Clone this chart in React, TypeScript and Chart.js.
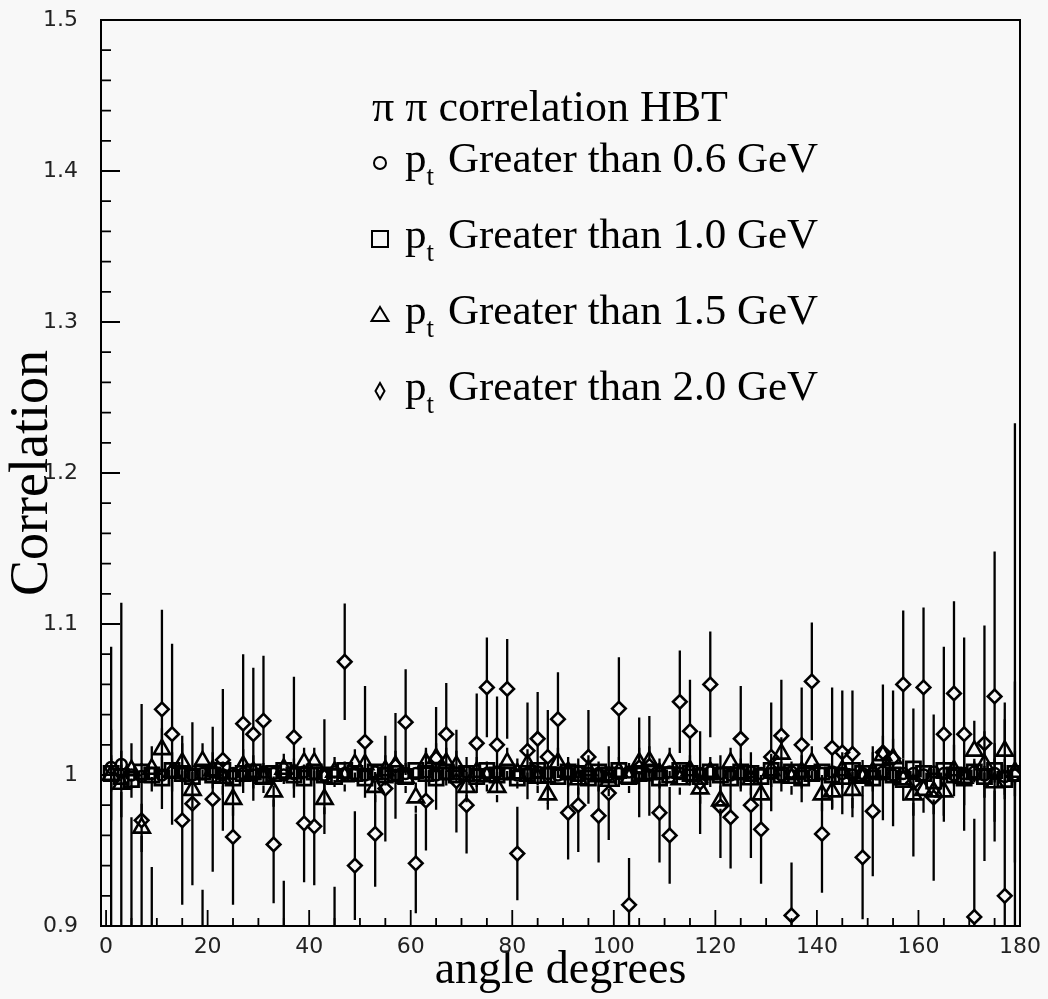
import React, { useEffect, useRef } from 'react';
import { Chart, registerables } from 'chart.js';

Chart.register(...registerables);

// ---------- data ----------
const angleBins = [
  1, 3, 5, 7, 9, 11, 13, 15, 17, 19,
  21, 23, 25, 27, 29, 31, 33, 35, 37, 39,
  41, 43, 45, 47, 49, 51, 53, 55, 57, 59,
  61, 63, 65, 67, 69, 71, 73, 75, 77, 79,
  81, 83, 85, 87, 89, 91, 93, 95, 97, 99,
  101, 103, 105, 107, 109, 111, 113, 115, 117, 119,
  121, 123, 125, 127, 129, 131, 133, 135, 137, 139,
  141, 143, 145, 147, 149, 151, 153, 155, 157, 159,
  161, 163, 165, 167, 169, 171, 173, 175, 177, 179,
];

// pt > 0.6 GeV (circles)
const corr06 = [
  1.005, 1.007, 1.000, 0.999, 1.001, 1.000, 1.002, 1.001, 1.000, 1.001,
  1.002, 1.000, 1.001, 1.001, 1.000, 1.002, 1.001, 1.000, 1.001, 1.002,
  1.001, 1.000, 1.002, 1.001, 1.001, 1.000, 1.002, 1.001, 1.000, 1.001,
  1.001, 1.002, 1.000, 1.001, 1.001, 1.002, 1.000, 1.001, 1.002, 1.001,
  1.000, 1.001, 1.002, 1.001, 1.000, 1.001, 1.002, 1.001, 1.001, 1.000,
  1.001, 1.002, 1.001, 1.000, 1.001, 1.002, 1.001, 1.000, 1.001, 1.002,
  1.001, 1.000, 1.001, 1.002, 1.001, 1.001, 1.000, 1.002, 1.001, 1.000,
  1.001, 1.002, 1.001, 1.000, 1.001, 1.001, 1.002, 1.000, 1.001, 1.001,
  1.000, 1.002, 1.001, 1.000, 1.001, 1.002, 1.000, 1.001, 0.999, 1.000,
];
const err06 = [
  0.006, 0.004, 0.003, 0.003, 0.003, 0.003, 0.003, 0.003, 0.003, 0.003,
  0.003, 0.003, 0.003, 0.003, 0.003, 0.003, 0.002, 0.002, 0.002, 0.002,
  0.002, 0.002, 0.002, 0.002, 0.002, 0.002, 0.002, 0.002, 0.002, 0.002,
  0.002, 0.002, 0.002, 0.002, 0.002, 0.002, 0.002, 0.002, 0.002, 0.002,
  0.002, 0.002, 0.002, 0.002, 0.002, 0.002, 0.002, 0.002, 0.002, 0.002,
  0.002, 0.002, 0.002, 0.002, 0.002, 0.002, 0.002, 0.002, 0.002, 0.002,
  0.002, 0.002, 0.002, 0.002, 0.002, 0.002, 0.002, 0.002, 0.002, 0.002,
  0.002, 0.002, 0.002, 0.003, 0.003, 0.003, 0.003, 0.003, 0.003, 0.003,
  0.003, 0.003, 0.003, 0.003, 0.003, 0.004, 0.004, 0.004, 0.005, 0.007,
];

// pt > 1.0 GeV (squares)
const corr10 = [
  1.001, 0.999, 0.997, 1.002, 1.000, 0.998, 1.003, 1.001, 0.999, 1.002,
  1.000, 1.003, 0.998, 1.001, 1.002, 0.999, 1.001, 1.003, 1.000, 0.998,
  1.002, 1.000, 0.999, 1.003, 1.001, 0.998, 1.002, 1.000, 1.001, 0.999,
  1.003, 1.001, 0.998, 1.002, 1.000, 1.001, 0.999, 1.003, 1.000, 1.002,
  0.998, 1.001, 1.003, 1.000, 0.999, 1.002, 1.001, 0.998, 1.002, 1.000,
  1.003, 0.999, 1.001, 1.002, 0.998, 1.000, 1.003, 1.001, 0.999, 1.002,
  1.000, 0.998, 1.002, 1.001, 0.999, 1.003, 1.000, 1.002, 0.998, 1.001,
  1.002, 1.000, 0.999, 1.003, 1.001, 0.998, 1.002, 1.000, 0.997, 1.004,
  1.001, 0.996, 1.003, 1.000, 0.998, 1.002, 0.999, 1.003, 0.997, 1.001,
];
const err10 = [
  0.012, 0.008, 0.006, 0.006, 0.005, 0.005, 0.005, 0.005, 0.005, 0.005,
  0.005, 0.004, 0.004, 0.004, 0.004, 0.004, 0.004, 0.004, 0.004, 0.004,
  0.004, 0.004, 0.004, 0.004, 0.004, 0.004, 0.004, 0.004, 0.004, 0.004,
  0.004, 0.004, 0.004, 0.004, 0.004, 0.004, 0.004, 0.004, 0.004, 0.004,
  0.004, 0.004, 0.004, 0.004, 0.004, 0.004, 0.004, 0.004, 0.004, 0.004,
  0.004, 0.004, 0.004, 0.004, 0.004, 0.004, 0.004, 0.004, 0.004, 0.004,
  0.004, 0.004, 0.004, 0.004, 0.004, 0.004, 0.004, 0.004, 0.004, 0.004,
  0.004, 0.004, 0.004, 0.004, 0.005, 0.005, 0.005, 0.005, 0.005, 0.005,
  0.005, 0.005, 0.006, 0.006, 0.006, 0.007, 0.007, 0.008, 0.010, 0.015,
];

// pt > 1.5 GeV (triangles)
const corr15 = [
  1.000, 0.994, 1.003, 0.965, 1.004, 1.017, 1.002, 1.008, 0.990, 1.009,
  1.003, 0.998, 0.984, 1.006, 1.002, 0.998, 0.989, 1.004, 1.001, 1.008,
  1.008, 0.984, 1.002, 0.999, 1.007, 1.007, 0.992, 1.003, 1.006, 0.998,
  0.985, 1.008, 1.011, 1.008, 1.006, 0.992, 1.002, 0.999, 0.992, 1.008,
  1.001, 1.007, 0.998, 0.987, 1.008, 1.002, 0.997, 1.003, 0.999, 0.996,
  1.002, 0.998, 1.008, 1.009, 1.001, 1.008, 0.997, 1.003, 0.991, 1.002,
  0.983, 1.008, 1.001, 0.997, 0.987, 1.003, 1.014, 0.998, 1.002, 1.008,
  0.987, 0.989, 1.003, 0.990, 0.998, 1.002, 1.013, 1.011, 0.997, 0.987,
  0.990, 0.989, 0.989, 1.003, 0.998, 1.016, 1.007, 0.995, 1.016, 1.002,
];
const err15 = [
  0.030, 0.022, 0.018, 0.016, 0.015, 0.014, 0.013, 0.013, 0.012, 0.012,
  0.012, 0.011, 0.011, 0.011, 0.011, 0.010, 0.010, 0.010, 0.010, 0.010,
  0.010, 0.010, 0.010, 0.010, 0.010, 0.010, 0.010, 0.010, 0.010, 0.010,
  0.010, 0.010, 0.010, 0.010, 0.010, 0.010, 0.010, 0.010, 0.010, 0.010,
  0.010, 0.010, 0.010, 0.010, 0.010, 0.010, 0.010, 0.010, 0.010, 0.010,
  0.010, 0.010, 0.010, 0.010, 0.010, 0.010, 0.010, 0.010, 0.010, 0.010,
  0.010, 0.010, 0.010, 0.010, 0.010, 0.011, 0.011, 0.011, 0.011, 0.011,
  0.011, 0.012, 0.012, 0.012, 0.012, 0.013, 0.013, 0.013, 0.014, 0.014,
  0.015, 0.015, 0.016, 0.017, 0.018, 0.020, 0.022, 0.026, 0.032, 0.060,
];

// pt > 2.0 GeV (diamonds)
const corr20 = [
  0.880, 0.875, 0.880, 0.970, 0.860, 1.0435, 1.027, 0.970, 0.981, 0.880,
  0.984, 1.010, 0.959, 1.034, 1.027, 1.036, 0.954, 0.892, 1.025, 0.968,
  0.966, 0.999, 0.888, 1.075, 0.940, 1.022, 0.961, 0.991, 1.006, 1.035,
  0.9415, 0.983, 1.011, 1.027, 0.996, 0.980, 1.021, 1.058, 1.020, 1.057,
  0.948, 1.016, 1.024, 1.012, 1.037, 0.975, 0.980, 1.012, 0.973, 0.988,
  1.044, 0.914, 1.005, 1.006, 0.975, 0.960, 1.0485, 1.029, 0.995, 1.060,
  0.979, 0.972, 1.024, 0.980, 0.964, 1.012, 1.026, 0.907, 1.020, 1.062,
  0.961, 1.018, 1.015, 1.014, 0.9455, 0.976, 1.015, 1.011, 1.060, 0.995,
  1.058, 0.985, 1.027, 1.054, 1.027, 0.906, 1.021, 1.052, 0.920, 1.000,
];
const err20 = [
  0.205, 0.239, 0.092, 0.077, 0.079, 0.066, 0.060, 0.056, 0.054, 0.044,
  0.048, 0.047, 0.045, 0.046, 0.044, 0.043, 0.039, 0.038, 0.040, 0.039,
  0.039, 0.038, 0.038, 0.0385, 0.036, 0.037, 0.035, 0.035, 0.035, 0.035,
  0.033, 0.033, 0.034, 0.034, 0.034, 0.032, 0.033, 0.033, 0.032, 0.033,
  0.031, 0.032, 0.031, 0.031, 0.031, 0.031, 0.031, 0.031, 0.031, 0.031,
  0.034, 0.031, 0.033, 0.033, 0.033, 0.032, 0.034, 0.034, 0.034, 0.035,
  0.034, 0.034, 0.035, 0.035, 0.036, 0.036, 0.037, 0.035, 0.038, 0.039,
  0.039, 0.040, 0.041, 0.042, 0.041, 0.043, 0.045, 0.045, 0.049, 0.049,
  0.053, 0.055, 0.058, 0.061, 0.064, 0.065, 0.078, 0.096, 0.117, 0.233,
];

const xTickValues = [0, 20, 40, 60, 80, 100, 120, 140, 160, 180];
const xMinorTickValues = [
  5, 10, 15, 25, 30, 35, 45, 50, 55, 65, 70, 75, 85, 90, 95,
  105, 110, 115, 125, 130, 135, 145, 150, 155, 165, 170, 175,
];
const yTickValues = [0.9, 1.0, 1.1, 1.2, 1.3, 1.4, 1.5];
const yTickLabels = ['0.9', '1', '1.1', '1.2', '1.3', '1.4', '1.5'];
const yMinorTickValues = [
  0.92, 0.94, 0.96, 0.98, 1.02, 1.04, 1.06, 1.08, 1.12, 1.14, 1.16, 1.18,
  1.22, 1.24, 1.26, 1.28, 1.32, 1.34, 1.36, 1.38, 1.42, 1.44, 1.46, 1.48,
];

const legendTitle = 'π π correlation HBT';
const legendTexts = [
  'Greater than 0.6 GeV',
  'Greater than 1.0 GeV',
  'Greater than 1.5 GeV',
  'Greater than 2.0 GeV',
];
const xTitle = 'angle degrees';
const yTitle = 'Correlation';

// ---------- styles ----------
const seriesValues = [corr06, corr10, corr15, corr20];
const seriesErrors = [err06, err10, err15, err20];
const seriesStyles = [
  { pointStyle: 'circle', radius: 5.5, borderWidth: 2.4, gap: 5.5 },
  { pointStyle: 'rect', radius: 10, borderWidth: 2.8, gap: 7 },
  { pointStyle: 'triangle', radius: 9.5, borderWidth: 2.6, gap: 8 },
  { pointStyle: 'rectRot', radius: 6.8, borderWidth: 2.6, gap: 6.8 },
];
const legendSymbols = ['circle', 'square', 'triangle', 'diamond'];

const SERIF = '"Liberation Serif", "Times New Roman", serif';
const SANS = '"DejaVu Sans", sans-serif';

const backgroundPlugin = {
  id: 'bg',
  beforeDraw(chart: any) {
    const { ctx, width, height } = chart;
    ctx.save();
    ctx.fillStyle = '#f8f8f8';
    ctx.fillRect(0, 0, width, height);
    ctx.restore();
  },
};

const errorBarPlugin = {
  id: 'errorBars',
  beforeDatasetsDraw(chart: any) {
    const { ctx, chartArea } = chart;
    const xs = chart.scales.x;
    const ys = chart.scales.y;
    ctx.save();
    ctx.beginPath();
    ctx.rect(chartArea.left, chartArea.top, chartArea.right - chartArea.left, chartArea.bottom - chartArea.top);
    ctx.clip();
    ctx.strokeStyle = '#000';
    chart.data.datasets.forEach((ds: any, di: number) => {
      const errs = seriesErrors[di];
      const gap = seriesStyles[di].gap;
      ctx.lineWidth = 2.3;
      ds.data.forEach((pt: any, i: number) => {
        const px = xs.getPixelForValue(pt.x);
        const py = ys.getPixelForValue(pt.y);
        const top = ys.getPixelForValue(pt.y + errs[i]);
        const bot = ys.getPixelForValue(pt.y - errs[i]);
        ctx.beginPath();
        if (py - gap > top) {
          ctx.moveTo(px, top);
          ctx.lineTo(px, py - gap);
        }
        if (py + gap < bot) {
          ctx.moveTo(px, py + gap);
          ctx.lineTo(px, bot);
        }
        ctx.stroke();
      });
    });
    ctx.restore();
  },
};

const framePlugin = {
  id: 'frame',
  afterDatasetsDraw(chart: any) {
    const { ctx, chartArea } = chart;
    const xs = chart.scales.x;
    const ys = chart.scales.y;
    const { left, right, top, bottom } = chartArea;
    ctx.save();
    ctx.strokeStyle = '#000';
    ctx.lineWidth = 2;
    ctx.strokeRect(left, top, right - left, bottom - top);
    ctx.lineWidth = 1.8;
    ctx.beginPath();
    xTickValues.forEach((v) => {
      const p = xs.getPixelForValue(v);
      ctx.moveTo(p, bottom);
      ctx.lineTo(p, bottom - 16);
    });
    xMinorTickValues.forEach((v) => {
      const p = xs.getPixelForValue(v);
      ctx.moveTo(p, bottom);
      ctx.lineTo(p, bottom - 8);
    });
    yTickValues.forEach((v) => {
      const p = ys.getPixelForValue(v);
      ctx.moveTo(left, p);
      ctx.lineTo(left + 19, p);
    });
    yMinorTickValues.forEach((v) => {
      const p = ys.getPixelForValue(v);
      ctx.moveTo(left, p);
      ctx.lineTo(left + 10, p);
    });
    ctx.stroke();
    ctx.restore();
  },
};

function drawSymbol(ctx: CanvasRenderingContext2D, kind: string, x: number, y: number) {
  ctx.beginPath();
  if (kind === 'circle') {
    ctx.arc(x, y, 6, 0, Math.PI * 2);
  } else if (kind === 'square') {
    ctx.rect(x - 8, y - 8, 16, 16);
  } else if (kind === 'triangle') {
    ctx.moveTo(x, y - 8);
    ctx.lineTo(x + 8.5, y + 6);
    ctx.lineTo(x - 8.5, y + 6);
    ctx.closePath();
  } else {
    ctx.moveTo(x, y - 8);
    ctx.lineTo(x + 4.5, y);
    ctx.lineTo(x, y + 8);
    ctx.lineTo(x - 4.5, y);
    ctx.closePath();
  }
  ctx.stroke();
}

const legendPlugin = {
  id: 'hbtLegend',
  afterDraw(chart: any) {
    const { ctx } = chart;
    ctx.save();
    ctx.fillStyle = '#000';
    ctx.strokeStyle = '#000';
    ctx.lineWidth = 2;
    ctx.textBaseline = 'alphabetic';
    ctx.textAlign = 'left';
    ctx.font = `44px ${SERIF}`;
    ctx.fillText(legendTitle, 372, 121);
    legendTexts.forEach((t, i) => {
      const base = 172 + i * 76;
      drawSymbol(ctx, legendSymbols[i], 380, base - 9);
      ctx.font = `43px ${SERIF}`;
      ctx.fillText('p', 405, base);
      const pw = ctx.measureText('p').width;
      ctx.font = `27px ${SERIF}`;
      ctx.fillText('t', 405 + pw, base + 13);
      ctx.font = `43px ${SERIF}`;
      ctx.fillText(t, 448, base);
    });
    ctx.restore();
  },
};

export default function App() {
  const canvasRef = useRef<HTMLCanvasElement | null>(null);

  useEffect(() => {
    if (!canvasRef.current) return;
    const datasets = seriesValues.map((vals, si) => ({
      label: legendTexts[si],
      data: angleBins.map((a, i) => ({ x: a, y: vals[i] })),
      showLine: false,
      pointStyle: seriesStyles[si].pointStyle as any,
      pointRadius: seriesStyles[si].radius,
      pointBorderWidth: seriesStyles[si].borderWidth,
      pointBorderColor: '#000',
      pointBackgroundColor: 'rgba(0,0,0,0)',
      clip: 0,
    }));

    const chart = new Chart(canvasRef.current, {
      type: 'scatter',
      data: { datasets },
      plugins: [backgroundPlugin, errorBarPlugin, framePlugin, legendPlugin],
      options: {
        animation: false,
        responsive: false,
        events: [],
        layout: { padding: { top: 20, right: 28, left: 0, bottom: 0 } },
        plugins: { legend: { display: false }, tooltip: { enabled: false } },
        scales: {
          x: {
            type: 'linear',
            min: -1,
            max: 180,
            grid: { display: false, drawTicks: false },
            border: { display: false },
            afterBuildTicks: (scale: any) => {
              scale.ticks = xTickValues.map((v) => ({ value: v }));
            },
            afterFit: (scale: any) => {
              scale.height = 73;
              scale.paddingLeft = 0;
              scale.paddingRight = 0;
            },
            ticks: {
              autoSkip: false,
              maxRotation: 0,
              padding: 8,
              color: '#222',
              font: { family: SANS, size: 22 },
              callback: (v: any) => String(v),
            },
            title: {
              display: true,
              text: xTitle,
              color: '#000',
              font: { family: SERIF, size: 46 },
              padding: { top: 0, bottom: 0 },
            },
          },
          y: {
            type: 'linear',
            min: 0.9,
            max: 1.5,
            grid: { display: false, drawTicks: false },
            border: { display: false },
            afterBuildTicks: (scale: any) => {
              scale.ticks = yTickValues.map((v) => ({ value: v }));
            },
            afterFit: (scale: any) => {
              scale.width = 101;
              scale.paddingTop = 0;
              scale.paddingBottom = 0;
            },
            ticks: {
              autoSkip: false,
              padding: 23,
              color: '#222',
              font: { family: SANS, size: 22 },
              callback: (_v: any, idx: number) => yTickLabels[idx],
            },
            title: {
              display: true,
              text: yTitle,
              color: '#000',
              font: { family: SERIF, size: 54 },
              padding: { top: 0, bottom: 0 },
            },
          },
        },
      },
    });
    return () => chart.destroy();
  }, []);

  return (
    <div style={{ position: 'absolute', left: 0, top: 0, width: 1048, height: 999 }}>
      <canvas ref={canvasRef} width={1048} height={999} style={{ display: 'block' }} />
    </div>
  );
}
